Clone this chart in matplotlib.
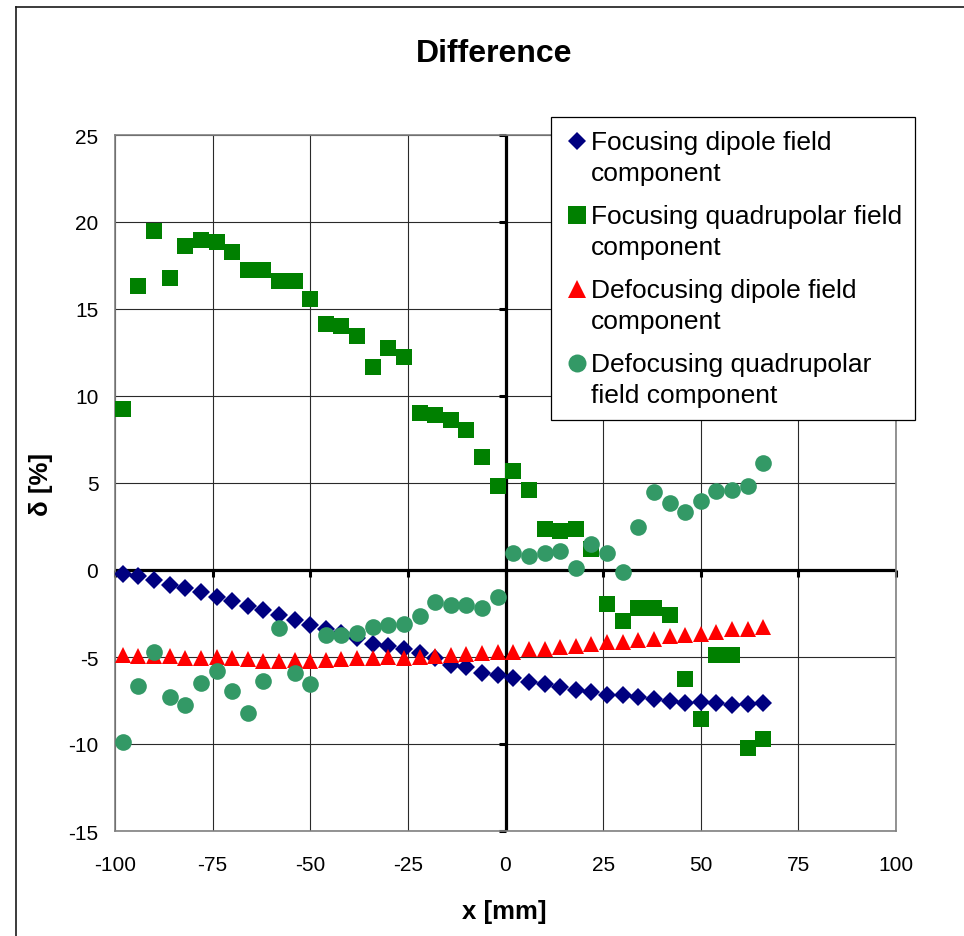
import matplotlib
matplotlib.use("Agg")
import matplotlib.pyplot as plt
from matplotlib.lines import Line2D

plt.rcParams['font.family'] = ['Liberation Sans', 'DejaVu Sans']
plt.rcParams['axes.unicode_minus'] = False

# ---- data ----
x_mm = [-98, -94, -90, -86, -82, -78, -74, -70, -66, -62, -58, -54, -50, -46,
        -42, -38, -34, -30, -26, -22, -18, -14, -10, -6, -2, 2, 6, 10, 14, 18,
        22, 26, 30, 34, 38, 42, 46, 50, 54, 58, 62, 66]

foc_dipole = [-0.23, -0.32, -0.55, -0.84, -1.03, -1.24, -1.53, -1.80, -2.08, -2.31,
              -2.56, -2.88, -3.17, -3.38, -3.61, -3.90, -4.24, -4.37, -4.55, -4.76,
              -5.06, -5.44, -5.60, -5.92, -6.06, -6.21, -6.44, -6.53, -6.72, -6.88,
              -7.01, -7.20, -7.20, -7.30, -7.39, -7.55, -7.62, -7.60, -7.64, -7.74,
              -7.70, -7.62]

foc_quad = [9.23, 16.3, 19.5, 16.8, 18.6, 18.95, 18.85, 18.26, 17.27, 17.27,
            16.6, 16.6, 15.6, 14.14, 14.02, 13.45, 11.69, 12.76, 12.26, 9.04,
            8.92, 8.63, 8.04, 6.48, 4.81, 5.69, 4.62, 2.33, 2.23, 2.35,
            1.2, -1.97, -2.94, -2.16, -2.16, -2.56, -6.27, -8.54, -4.91, -4.91,
            -10.22, -9.72]

defoc_dipole = [-4.87, -4.97, -4.97, -4.97, -5.04, -5.04, -5.00, -5.04, -5.10, -5.23,
                -5.23, -5.15, -5.23, -5.20, -5.10, -5.05, -5.05, -5.00, -5.05, -5.02,
                -4.97, -4.91, -4.85, -4.78, -4.72, -4.72, -4.53, -4.53, -4.43, -4.34,
                -4.24, -4.15, -4.15, -4.01, -3.95, -3.82, -3.76, -3.67, -3.57, -3.38,
                -3.38, -3.28]

defoc_quad = [-9.91, -6.67, -4.72, -7.28, -7.78, -6.48, -5.81, -6.97, -8.23, -6.38,
              -3.32, -5.90, -6.57, -3.72, -3.76, -3.63, -3.25, -3.15, -3.12, -2.67,
              -1.85, -1.99, -1.99, -2.18, -1.57, 0.99, 0.78, 0.99, 1.09, 0.10,
              1.51, 0.97, -0.10, 2.45, 4.51, 3.84, 3.34, 3.94, 4.53, 4.60,
              4.80, 6.17]

labels = ['Focusing dipole field\ncomponent',
          'Focusing quadrupolar field\ncomponent',
          'Defocusing dipole field\ncomponent',
          'Defocusing quadrupolar\nfield component']

x_ticks = [-100, -75, -50, -25, 0, 25, 50, 75, 100]
y_ticks = [-15, -10, -5, 0, 5, 10, 15, 20, 25]

W, H = 964, 937
fig = plt.figure(figsize=(W / 100, H / 100), dpi=100)
fig.patch.set_facecolor('white')

L, R, T, B = 115, 896, 136, 832
ax = fig.add_axes([L / W, 1 - B / H, (R - L) / W, (B - T) / H])
ax.set_xlim(-100, 100)
ax.set_ylim(-15, 25)
ax.set_xticks(x_ticks)
ax.set_yticks(y_ticks)
ax.tick_params(axis='both', length=0, labelsize=15)
ax.tick_params(axis='x', pad=17)
ax.tick_params(axis='y', pad=12)
for s in ax.spines.values():
    s.set_color('#808080')
    s.set_linewidth(1.2)
ax.grid(True, color='#2a2a2a', linewidth=0.8, zorder=0)
ax.set_axisbelow(True)

# zero axes with tick marks
ax.axhline(0, color='black', linewidth=2.3, zorder=1.5)
ax.axvline(0, color='black', linewidth=2.3, zorder=1.5)
ax.plot(x_ticks, [0] * len(x_ticks), linestyle='none', marker=3, ms=5,
        mew=2.2, color='black', zorder=1.6, clip_on=False)
ax.plot([0] * len(y_ticks), y_ticks, linestyle='none', marker=0, ms=5,
        mew=2.2, color='black', zorder=1.6, clip_on=False)

h1, = ax.plot(x_mm, foc_dipole, linestyle='none', marker='D', ms=8.7,
              color='#000080', mew=0, zorder=3, label=labels[0])
h2, = ax.plot(x_mm, foc_quad, linestyle='none', marker='s', ms=12,
              color='#008000', mew=0, zorder=3.1, label=labels[1])
h3, = ax.plot(x_mm, defoc_dipole, linestyle='none', marker='^', ms=12,
              color='#FF0000', mew=0, zorder=3.2, label=labels[2])
h4, = ax.plot(x_mm, defoc_quad, linestyle='none', marker='o', ms=12,
              color='#339966', mew=0, zorder=3.3, label=labels[3])

leg = fig.legend(handles=[h1, h2, h3, h4], labels=labels,
                 loc='upper left', bbox_to_anchor=(551 / W, 1 - 118 / H),
                 bbox_transform=fig.transFigure, borderaxespad=0,
                 fontsize=19, fancybox=False, framealpha=1, edgecolor='black',
                 borderpad=0.5, handlelength=0.95, handletextpad=0.05,
                 labelspacing=0.72, numpoints=1, markerscale=1.08)
leg.get_frame().set_linewidth(0.9)
for t in leg.get_texts():
    t.set_linespacing(1.36)
for lh in leg.legend_handles:
    yd = lh.get_ydata()
    lh.set_ydata([v + 12.0 for v in yd])

fig.text(494 / W, 1 - 54 / H, 'Difference', ha='center', va='center',
         fontsize=23, fontweight='bold')
fig.text(504 / W, 1 - 912 / H, 'x [mm]', ha='center', va='center',
         fontsize=18.5, fontweight='bold')
fig.text(41 / W, 1 - 484 / H, 'δ [%]', ha='center', va='center',
         rotation=90, fontsize=18.5, fontweight='bold')

# outer chart border (top and left visible)
fig.add_artist(Line2D([16 / W, 1.0], [1 - 8 / H, 1 - 8 / H],
                      transform=fig.transFigure, color='#1a1a1a', lw=1.2))
fig.add_artist(Line2D([16 / W, 16 / W], [1 - 8 / H, 0.0],
                      transform=fig.transFigure, color='#1a1a1a', lw=1.2))

fig.savefig('out.png', dpi=100)
